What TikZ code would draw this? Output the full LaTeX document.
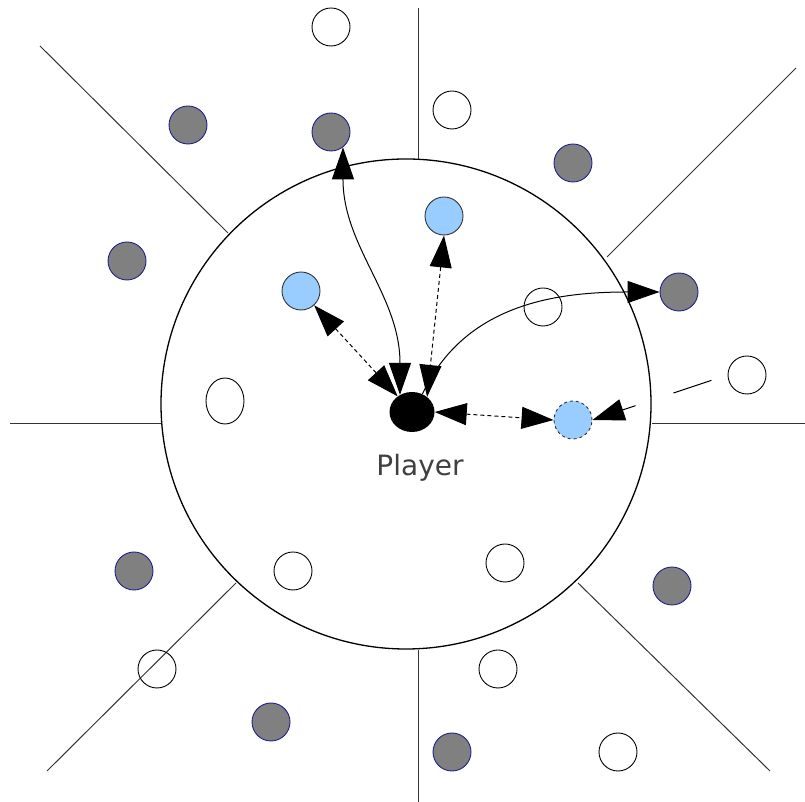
\documentclass[tikz,border=0pt]{standalone}
\usepackage{fontspec}
\newfontfamily\labelfont{DejaVu Sans}
\usepackage{xcolor}
\usepackage{tikz}
\usetikzlibrary{shapes.geometric, arrows.meta, positioning}
\definecolor{takengray}{HTML}{808080}
\definecolor{takenedge}{HTML}{20208C}
\definecolor{goalblue}{HTML}{99CCFF}
\definecolor{labelgray}{HTML}{404040}
\tikzset{
  zonenode/.style={
    circle,
    draw=black,
    line width=1.3pt,
    minimum size=490pt,
    inner sep=0pt
  },
  sector/.style={
    draw=black!80,
    line width=1pt
  },
  freenode/.style={
    circle,
    draw=black,
    line width=0.9pt,
    minimum size=38pt,
    inner sep=0pt
  },
  takennode/.style={
    circle,
    draw=takenedge,
    fill=takengray,
    line width=0.9pt,
    minimum size=38pt,
    inner sep=0pt
  },
  goalnode/.style={
    circle,
    draw=black!80,
    fill=goalblue,
    line width=0.9pt,
    minimum size=38pt,
    inner sep=0pt
  },
  playernode/.style={
    ellipse,
    fill=black,
    minimum width=45pt,
    minimum height=40pt,
    inner sep=0pt
  },
  solidarrow/.style={
    line width=1pt,
    -{Triangle[length=32pt, width=22pt]}
  },
  probearrow/.style={
    line width=1pt,
    dash pattern=on 4pt off 3pt,
    {Triangle[length=32pt, width=22pt]}-{Triangle[length=32pt, width=22pt]}
  },
  longarrow/.style={
    line width=1pt,
    dash pattern=on 40pt off 40pt,
    dash phase=63pt,
    -{Triangle[length=32pt, width=22pt]}
  }
}

\begin{document}
\begin{tikzpicture}[x=1pt, y=1pt]
  \useasboundingbox (0,0) rectangle (805,802);

  % --- DETECTION ZONE ---
  \node (zone) [zonenode] at (406,398) {};

  % --- SECTOR DIVIDERS ---
  \coordinate (N_out) at (418,794);   \coordinate (N_in) at (418,643);
  \coordinate (NW_out) at (40,756);   \coordinate (NW_in) at (228,569);
  \coordinate (NE_out) at (796,734);  \coordinate (NE_in) at (607,545);
  \coordinate (W_out) at (10,378);    \coordinate (W_in) at (161,378);
  \coordinate (E_out) at (805,378);   \coordinate (E_in) at (652,378);
  \coordinate (SW_out) at (47,31);    \coordinate (SW_in) at (236,219);
  \coordinate (SE_out) at (770,31);   \coordinate (SE_in) at (578,219);
  \coordinate (S_out) at (418,0);     \coordinate (S_in) at (418,152);

  \draw[sector] (N_out) -- (N_in);
  \draw[sector] (NW_out) -- (NW_in);
  \draw[sector] (NE_out) -- (NE_in);
  \draw[sector] (W_out) -- (W_in);
  \draw[sector] (E_out) -- (E_in);
  \draw[sector] (SW_out) -- (SW_in);
  \draw[sector] (SE_out) -- (SE_in);
  \draw[sector] (S_out) -- (S_in);

  % --- FREE OBJECTS ---
  \node (F1) [freenode] at (331,775) {};
  \node (F2) [freenode] at (452,692) {};
  \node (F3) [freenode] at (543,495) {};
  \node (F4) [freenode] at (747,427) {};
  \node (F5) [freenode] at (293,231) {};
  \node (F6) [freenode] at (505,239) {};
  \node (F7) [freenode] at (157,133) {};
  \node (F8) [freenode] at (498,133) {};
  \node (F9) [freenode] at (618,50) {};
  \node (F10) [freenode, ellipse, minimum width=38pt, minimum height=46pt] at (225,401) {};

  % --- TAKEN OBJECTS ---
  \node (T1) [takennode] at (188,677) {};
  \node (T2) [takennode] at (331,670) {};
  \node (T3) [takennode] at (573,639) {};
  \node (T4) [takennode] at (127,541) {};
  \node (T5) [takennode] at (679,510) {};
  \node (T6) [takennode] at (134,231) {};
  \node (T7) [takennode] at (672,216) {};
  \node (T8) [takennode] at (271,80) {};
  \node (T9) [takennode] at (452,50) {};

  % --- GOALS AND PLAYER ---
  \node (G1) [goalnode] at (301,511) {};
  \node (G2) [goalnode] at (444,586) {};
  \node (G3) [goalnode, dashed] at (573,382) {};

  \node (player) [playernode] at (412,390) {};
  \node (P_label) [below=22pt of player, xshift=8pt, inner sep=0pt,
    font=\labelfont\fontsize{28}{32}\selectfont, text=labelgray] {Player};

  % Connectors
  \draw[solidarrow, {Triangle[length=32pt, width=22pt]}-{Triangle[length=32pt, width=22pt]}]
    (T2.-52) to[out=-90, in=90] (player.125);
  \draw[solidarrow] (player.60) to[out=65, in=180] (T5.west);
  \draw[probearrow] (G1) -- (player);
  \draw[probearrow] (G2.south) -- (player.45);
  \draw[probearrow] (player.east) -- (G3.west);
  \draw[longarrow] (F4.west) -- (G3.east);

\end{tikzpicture}
\end{document}
